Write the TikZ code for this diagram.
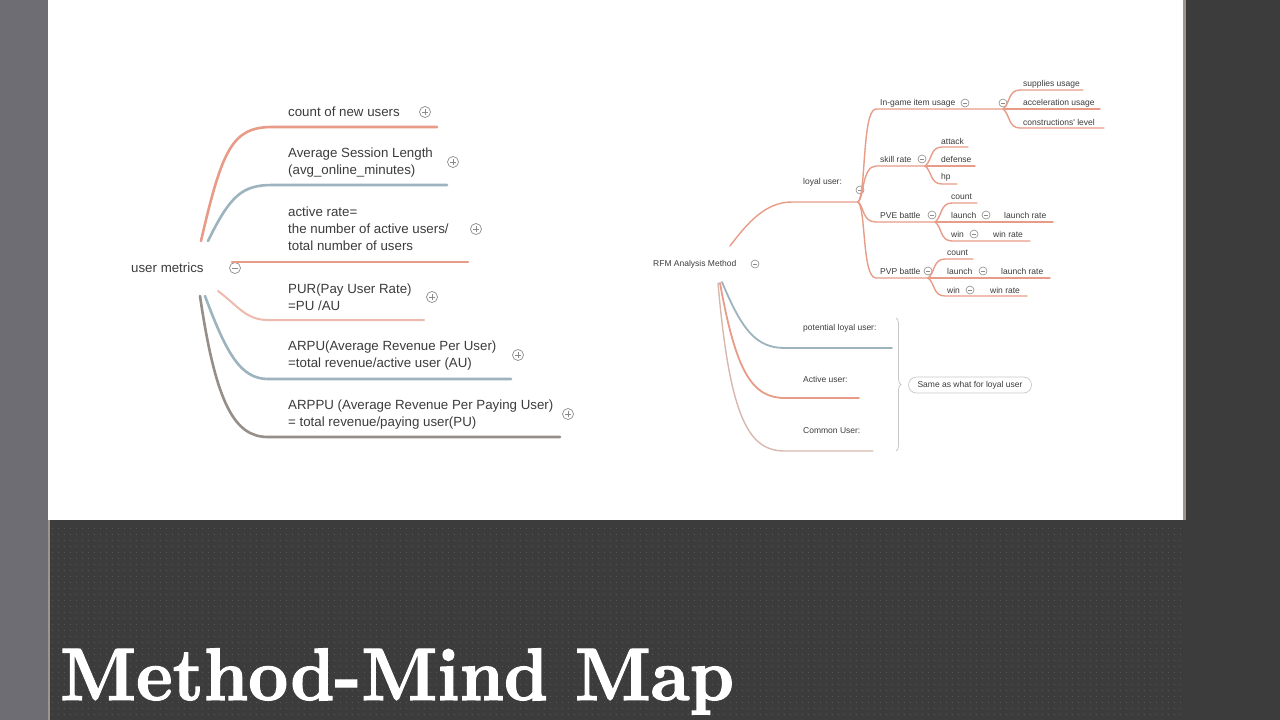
\documentclass[tikz,border=0pt]{standalone}
\usepackage{fontspec}
\newfontfamily\mapfont{Liberation Sans}
\newfontfamily\titlefnt[FakeBold=1.6]{lmroman10-bold.otf}
\usetikzlibrary{decorations.pathreplacing}
\definecolor{salmon}{HTML}{E89C88}
\definecolor{salmonl}{HTML}{EEBAAD}
\definecolor{bluegray}{HTML}{9DB3BD}
\definecolor{graybrown}{HTML}{958E89}
\definecolor{txt}{HTML}{3C3C3C}
\definecolor{icon}{HTML}{8A8A8A}
\definecolor{darkbg}{HTML}{3C3C3C}
\definecolor{side}{HTML}{6D6D73}
\definecolor{edgeline}{HTML}{9C968E}
\definecolor{dotc}{HTML}{565656}
\definecolor{boxline}{HTML}{C8C8C8}
\definecolor{commonc}{HTML}{D8B8AE}
\tikzset{
  ltxt/.style={font=\mapfont\fontsize{13.3}{17}\selectfont, text=txt, anchor=west, inner sep=0pt, align=left},
  rtxt/.style={font=\mapfont\fontsize{8.5}{10}\selectfont, text=txt, anchor=west, inner sep=0pt},
  lbranch/.style={line width=2.6pt, line cap=round},
  rbranch/.style={line width=1.4pt, salmon, line cap=round},
  bigplus/.style={circle, draw=icon, line width=0.7pt, minimum size=11pt, inner sep=0pt,
    path picture={\draw[icon, line width=0.7pt] (path picture bounding box.center) ++(-3pt,0) -- ++(6pt,0);
                  \draw[icon, line width=0.7pt] (path picture bounding box.center) ++(0,-3pt) -- ++(0,6pt);}},
  bigminus/.style={circle, draw=icon, line width=0.7pt, minimum size=11pt, inner sep=0pt,
    path picture={\draw[icon, line width=0.7pt] (path picture bounding box.center) ++(-3pt,0) -- ++(6pt,0);}},
  smallminus/.style={circle, draw=icon, line width=0.6pt, minimum size=8pt, inner sep=0pt,
    path picture={\draw[icon, line width=0.6pt] (path picture bounding box.center) ++(-2.2pt,0) -- ++(4.4pt,0);}},
  samebox/.style={draw=boxline, line width=0.7pt, rounded corners=8pt, minimum width=123pt, minimum height=16pt,
    inner sep=0pt, font=\mapfont\fontsize{8.5}{10}\selectfont, text=txt},
  titlestyle/.style={font=\titlefnt\fontsize{69.5}{70}\selectfont, text=white, anchor=base west, inner sep=0pt}
}
\begin{document}
\begin{tikzpicture}[x=1pt, y=-1pt]
\useasboundingbox (0,0) rectangle (1280,720);
% ---------- slide background ----------
\fill[white] (0,0) rectangle (1280,720);
\fill[side] (0,0) rectangle (48,720);
\fill[darkbg] (1184,0) rectangle (1280,720);
\fill[darkbg] (48,520) rectangle (1184,720);
\fill[edgeline] (1183,0) rectangle (1186,520);
\fill[edgeline] (48,520) rectangle (50,720);
\foreach \yy in {528,534,...,716} {
  \draw[dotc, line width=0.8pt, dash pattern=on 0.8pt off 5.2pt] (52,\yy) -- (1184,\yy);
}
% ---------- left mind map ----------
\node[ltxt] (root1) at (131,268) {user metrics};
\node[bigminus] (root1m) at (235,268) {};
\node[ltxt] (n1) at (288,112) {count of new users};
\node[bigplus] (n1p) at (425,112) {};
\node[ltxt] (n2) at (288,162.5) {Average Session Length\\(avg\_online\_minutes)};
\node[bigplus] (n2p) at (453,162) {};
\node[ltxt] (n3) at (288,229) {active rate=\\the number of active users/\\total number of users};
\node[bigplus] (n3p) at (476,229) {};
\node[ltxt] (n4) at (288,297) {PUR(Pay User Rate)\\=PU /AU};
\node[bigplus] (n4p) at (432,297) {};
\node[ltxt] (n5) at (288,356) {ARPU(Average Revenue Per User)\\=total revenue/active user (AU)};
\node[bigplus] (n5p) at (518,355) {};
\node[ltxt] (n6) at (288,415) {ARPPU (Average Revenue Per Paying User)\\= total revenue/paying user(PU)};
\node[bigplus] (n6p) at (568,414) {};

\coordinate (r1a) at (201,241);
\coordinate (r1b) at (208,241);
\coordinate (r1c) at (232,262);
\coordinate (r1d) at (218,291);
\coordinate (r1e) at (205,296);
\coordinate (r1f) at (200,296);
\coordinate (e1) at (437,127);
\coordinate (e2) at (447,185);
\coordinate (e3) at (468,262);
\coordinate (e4) at (424,320);
\coordinate (e5) at (511,379);
\coordinate (e6) at (560,437);

\draw[lbranch, salmon] (r1a) .. controls (222,150) and (232,127) .. (272,127) -- (e1);
\draw[lbranch, bluegray] (r1b) .. controls (230,196) and (242,185) .. (272,185) -- (e2);
\draw[lbranch, salmon] (r1c) -- (e3);
\draw[line width=2pt, line cap=round, salmonl] (r1d) .. controls (238,306) and (246,320) .. (268,320) -- (e4);
\draw[lbranch, bluegray] (r1e) .. controls (226,352) and (240,379) .. (268,379) -- (e5);
\draw[lbranch, graybrown] (r1f) .. controls (216,405) and (235,437) .. (268,437) -- (e6);

% ---------- right mind map ----------
\node[rtxt] (root2) at (653,264) {RFM Analysis Method};
\node[smallminus] (root2m) at (755,264) {};
\node[rtxt] (loyal) at (803,182) {loyal user:};
\node[smallminus] (loyalm) at (860,190) {};

\node[rtxt] (ig) at (880,103) {In-game item usage};
\node[smallminus] (igm) at (965,103) {};
\node[smallminus] (igm2) at (1003,103) {};
\node[rtxt] (sup) at (1023,84) {supplies usage};
\node[rtxt] (acc) at (1023,103) {acceleration usage};
\node[rtxt] (con) at (1023,122) {constructions' level};

\node[rtxt] (skill) at (880,159) {skill rate};
\node[smallminus] (skm) at (922,159) {};
\node[rtxt] (att) at (941,141) {attack};
\node[rtxt] (def) at (941,159) {defense};
\node[rtxt] (hp) at (941,177) {hp};

\node[rtxt] (pve) at (880,215) {PVE battle};
\node[smallminus] (pvem) at (932,215) {};
\node[rtxt] (pvec) at (951,197) {count};
\node[rtxt] (pvel) at (951,215) {launch};
\node[smallminus] (pvelm) at (986,215) {};
\node[rtxt] (pvelr) at (1004,215) {launch rate};
\node[rtxt] (pvew) at (951,234) {win};
\node[smallminus] (pvewm) at (974,234) {};
\node[rtxt] (pvewr) at (993,234) {win rate};

\node[rtxt] (pvp) at (880,271) {PVP battle};
\node[smallminus] (pvpm) at (928,271) {};
\node[rtxt] (pvpc) at (947,253) {count};
\node[rtxt] (pvpl) at (947,271) {launch};
\node[smallminus] (pvplm) at (983,271) {};
\node[rtxt] (pvplr) at (1001,271) {launch rate};
\node[rtxt] (pvpw) at (947,290) {win};
\node[smallminus] (pvpwm) at (970,290) {};
\node[rtxt] (pvpwr) at (990,290) {win rate};

\node[rtxt] (pot) at (803,328) {potential loyal user:};
\node[rtxt] (act) at (803,379) {Active user:};
\node[rtxt] (com) at (803,431) {Common User:};
\node[samebox] (same) at (970,385) {Same as what for loyal user};

% connectors right
\coordinate (r2a) at (730,246);
\coordinate (r2b) at (722,282);
\coordinate (r2c) at (720,283);
\coordinate (r2d) at (718,283);
\coordinate (j0) at (858,202);
\coordinate (jig) at (1003,109);
\coordinate (jsk) at (925,166);
\coordinate (jpve) at (935,222);
\coordinate (jpvp) at (928,278);

\draw[rbranch] (r2a) .. controls (748,222) and (766,202) .. (792,202) -- (j0);
\draw[rbranch] (j0) .. controls (866,196) and (862,109) .. (876,109) -- (jig);
\draw[rbranch] (j0) .. controls (864,198) and (862,166) .. (876,166) -- (jsk);
\draw[rbranch] (j0) .. controls (864,206) and (862,222) .. (876,222) -- (jpve);
\draw[rbranch] (j0) .. controls (866,208) and (862,278) .. (876,278) -- (jpvp);

\coordinate (esup) at (1083,90);
\coordinate (eacc) at (1100,109);
\coordinate (econ) at (1104,128);
\draw[rbranch] (jig) .. controls (1010,104) and (1008,90) .. (1020,90) -- (esup);
\draw[rbranch] (jig) -- (eacc);
\draw[rbranch] (jig) .. controls (1010,114) and (1008,128) .. (1020,128) -- (econ);

\coordinate (eatt) at (968,147);
\coordinate (edef) at (975,166);
\coordinate (ehp) at (957,184);
\draw[rbranch] (jsk) .. controls (932,161) and (930,147) .. (942,147) -- (eatt);
\draw[rbranch] (jsk) -- (edef);
\draw[rbranch] (jsk) .. controls (932,171) and (930,184) .. (942,184) -- (ehp);

\coordinate (epvec) at (977,203);
\coordinate (epvel) at (1053,222);
\coordinate (epvew) at (1030,241);
\draw[rbranch] (jpve) .. controls (942,217) and (940,203) .. (952,203) -- (epvec);
\draw[rbranch] (jpve) -- (epvel);
\draw[rbranch] (jpve) .. controls (942,227) and (940,241) .. (952,241) -- (epvew);

\coordinate (epvpc) at (973,259);
\coordinate (epvpl) at (1050,278);
\coordinate (epvpw) at (1027,296);
\draw[rbranch] (jpvp) .. controls (935,273) and (933,259) .. (945,259) -- (epvpc);
\draw[rbranch] (jpvp) -- (epvpl);
\draw[rbranch] (jpvp) .. controls (935,283) and (933,296) .. (945,296) -- (epvpw);

\coordinate (epot) at (892,348);
\coordinate (eact) at (859,398);
\coordinate (ecom) at (873,451);
\draw[line width=1.8pt, bluegray, line cap=round] (r2b) .. controls (742,330) and (756,348) .. (785,348) -- (epot);
\draw[line width=1.8pt, salmon, line cap=round] (r2c) .. controls (736,372) and (752,398) .. (785,398) -- (eact);
\draw[line width=1.4pt, commonc, line cap=round] (r2d) .. controls (730,422) and (750,451) .. (785,451) -- (ecom);

\coordinate (brt) at (896,318);
\coordinate (brb) at (896,451);
\draw[boxline, line width=0.8pt, decorate, decoration={brace, amplitude=5pt}] (brt) -- (brb);

% ---------- title ----------
\node[titlestyle] (title) at (60,700) {\scalebox{1}[1.07]{Method-Mind Map}};
\end{tikzpicture}
\end{document}
